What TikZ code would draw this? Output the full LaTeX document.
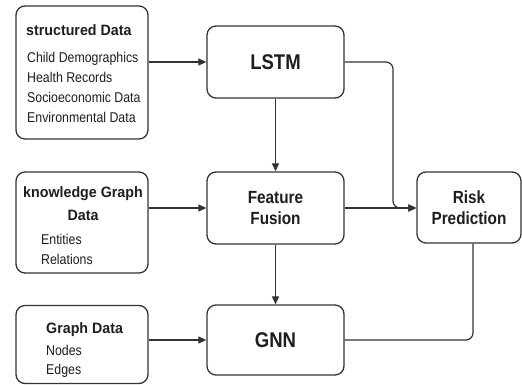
\documentclass[tikz,border=0pt]{standalone}
\usepackage{fontspec}
\setmainfont{Liberation Sans}
\newfontfamily\condf{Liberation Sans}[FakeStretch=0.87]
\newfontfamily\headf{Liberation Sans}[FakeStretch=0.95]
\usetikzlibrary{arrows.meta}
\definecolor{ink}{HTML}{1E1E1E}
\definecolor{edgec}{HTML}{333333}
\begin{document}
\begin{tikzpicture}[x=1pt,y=-1pt,
  box/.style={draw=edgec, line width=1.3pt, rounded corners=9pt, fill=white, inner sep=0pt},
  proc/.style={box, font=\condf\bfseries\fontsize{17.6}{21}\selectfont, align=center, text=ink},
  big/.style={font=\condf\bfseries\fontsize{21.3}{24}\selectfont},
  head/.style={font=\headf\bfseries\fontsize{15}{17}\selectfont, text=ink, inner sep=0pt},
  item/.style={font=\condf\fontsize{14.2}{16}\selectfont, text=ink, inner sep=0pt, anchor=base west},
  conn/.style={draw=edgec, line width=1.2pt, rounded corners=7pt},
  arr/.style={conn, -{Triangle[length=8pt,width=7pt]}}
]
\useasboundingbox (0,0) rectangle (522,385);

% input boxes
\node[box, minimum width=132pt, minimum height=133pt] (sd) at (82,72.5) {};
\node[box, minimum width=132pt, minimum height=101pt] (kg) at (82,222.5) {};
\node[box, minimum width=132pt, minimum height=78pt] (gd) at (82,344.5) {};

% process boxes
\node[proc, big, minimum width=137pt, minimum height=72pt] (lstm) at (275.5,62) {LSTM};
\node[proc, minimum width=137pt, minimum height=72pt] (ff) at (275.5,208) {Feature\\Fusion};
\node[proc, big, minimum width=137pt, minimum height=70pt] (gnn) at (275.5,340) {GNN};
\node[proc, minimum width=104pt, minimum height=71pt] (risk) at (469,207.5) {Risk\\Prediction};

% texts of input boxes
\node[head, anchor=base west] (sdt) at (26,36) {structured Data};
\node[item] (sd1) at (27,63) {Child Demographics};
\node[item] (sd2) at (27,83) {Health Records};
\node[item] (sd3) at (27,103) {Socioeconomic Data};
\node[item] (sd4) at (27,123) {Environmental Data};

\node[head, anchor=base] (kgt1) at (83,197) {knowledge Graph};
\node[head, anchor=base] (kgt2) at (83,220) {Data};
\node[item] (kg1) at (41,244) {Entities};
\node[item] (kg2) at (41,264) {Relations};

\node[head, anchor=base west] (gdt) at (46,333) {Graph Data};
\node[item] (gd1) at (46,355) {Nodes};
\node[item] (gd2) at (46,374) {Edges};

% connectors
\draw[arr] (sd.east |- lstm.west) -- (lstm.west);
\draw[arr] (kg.east |- ff.west) -- (ff.west);
\draw[arr] (gd.east |- gnn.west) -- (gnn.west);
\draw[arr] (lstm.south) -- (ff.north);
\draw[arr] (ff.south) -- (gnn.north);
\draw[arr] (ff.east) -- (risk.west |- ff.east);
\coordinate (lj) at (393,208);
\draw[arr] (lstm.east) -| (lj) -- (risk.west |- lj);
\draw[conn] (gnn.east) -| ([xshift=4pt]risk.south);
\end{tikzpicture}
\end{document}
